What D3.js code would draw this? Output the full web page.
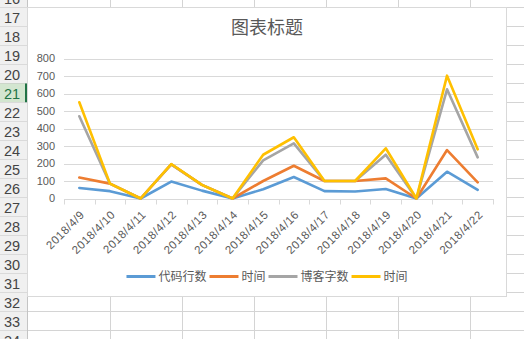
<!DOCTYPE html>
<html><head><meta charset="utf-8">
<script src="https://cdn.jsdelivr.net/npm/d3@7"></script>
<style>
html,body{margin:0;padding:0;background:#fff;overflow:hidden}
svg{display:block}
</style></head>
<body>
<svg id="c" width="524" height="339"></svg>
<script>
const categories = ["2018/4/9","2018/4/10","2018/4/11","2018/4/12","2018/4/13","2018/4/14","2018/4/15","2018/4/16","2018/4/17","2018/4/18","2018/4/19","2018/4/20","2018/4/21","2018/4/22"];
const codeLines = [60, 42, 0, 97, 45, 0, 53, 123, 42, 40, 54, 0, 153, 49];
const time1     = [120, 85, 0, 195, 78, 0, 100, 187, 100, 100, 115, 0, 277, 92];
const blogWords = [470, 85, 0, 195, 78, 0, 218, 315, 100, 100, 250, 0, 624, 235];
const time2     = [550, 85, 0, 197, 78, 0, 250, 350, 100, 100, 287, 0, 702, 281];
const seriesNames = ["代码行数","时间","博客字数","时间"];
const seriesColors = ["#5b9bd5","#ed7d31","#a5a5a5","#ffc000"];
const yTicks = [0,100,200,300,400,500,600,700,800];
const rowNumbers = [16,17,18,19,20,21,22,23,24,25,26,27,28,29,30,31,32,33,34];
const selectedRow = 21;
const title = "图表标题";

const series = [codeLines, time1, blogWords, time2];
const svg = d3.select("#c");
const W = 524, H = 339;
const cjk = "'Noto Sans CJK SC','Noto Sans',sans-serif";

// ---- spreadsheet background ----
const rowTop0 = 7.5 - 19; // top of row 16
const rowH = 19;
const hdrW = 27;
const colLines = [110, 182, 254, 326, 398, 470];
const g0 = svg.append("g");
rowNumbers.forEach((r, i) => {
  const y = rowTop0 + i * rowH;
  g0.append("line").attr("x1", hdrW).attr("x2", W).attr("y1", y + rowH).attr("y2", y + rowH)
    .attr("stroke", "#d4d4d4").attr("stroke-width", 1).attr("shape-rendering","crispEdges");
});
colLines.forEach(x => {
  g0.append("line").attr("x1", x + .5).attr("x2", x + .5).attr("y1", 0).attr("y2", H)
    .attr("stroke", "#d4d4d4").attr("shape-rendering","crispEdges");
});
rowNumbers.forEach((r, i) => {
  const y = rowTop0 + i * rowH;
  const sel = r === selectedRow;
  g0.append("rect").attr("x", 0).attr("y", y).attr("width", hdrW).attr("height", rowH)
    .attr("fill", sel ? "#d3e6d0" : "#f0f0f0");
  g0.append("line").attr("x1", 0).attr("x2", hdrW).attr("y1", y + rowH).attr("y2", y + rowH)
    .attr("stroke", "#c4c4c4").attr("shape-rendering","crispEdges");
  g0.append("text").attr("x", 12).attr("y", y + rowH / 2 + 5.5)
    .attr("text-anchor", "middle").attr("font-family", "'Liberation Sans',Arial,sans-serif")
    .attr("font-size", 14.5).attr("fill", sel ? "#217346" : "#444").text(r);
  if (sel) {
    g0.append("rect").attr("x", hdrW - 2).attr("y", y).attr("width", 2).attr("height", rowH).attr("fill", "#217346");
  }
});
g0.append("line").attr("x1", hdrW + .5).attr("x2", hdrW + .5).attr("y1", 0).attr("y2", H)
  .attr("stroke", "#c4c4c4");

// ---- chart area ----
const chart = {x0: 28, y0: 8, x1: 506, y1: 296};
svg.append("rect").attr("x", chart.x0 - .5).attr("y", chart.y0 - .5)
  .attr("width", chart.x1 - chart.x0 + 1).attr("height", chart.y1 - chart.y0 + 1)
  .attr("fill", "#fff").attr("stroke", "#d9d9d9");

svg.append("text").attr("x", (chart.x0 + chart.x1) / 2).attr("y", 34)
  .attr("text-anchor", "middle").attr("font-family", cjk).attr("font-size", 18)
  .attr("fill", "#595959").text(title);

const x = d3.scaleBand().domain(categories).range([64, 493]).padding(0);
const y = d3.scaleLinear().domain([0, 800]).range([198.5, 58.5]);

svg.append("g").selectAll("line").data(yTicks).join("line")
  .attr("x1", 64).attr("x2", 493)
  .attr("y1", d => Math.round(y(d)) + .5).attr("y2", d => Math.round(y(d)) + .5)
  .attr("stroke", "#d9d9d9");

svg.append("g").selectAll("text").data(yTicks).join("text")
  .attr("x", 55).attr("y", d => y(d)).attr("dy", "0.36em")
  .attr("text-anchor", "end").attr("font-family", "'Liberation Sans',Arial,sans-serif")
  .attr("font-size", 11).attr("fill", "#595959").text(d => d);

const tickXs = categories.map(c => x(c)).concat([x.range()[1]]);
svg.append("g").selectAll("line").data(tickXs).join("line")
  .attr("x1", d => Math.round(d) + .5).attr("x2", d => Math.round(d) + .5)
  .attr("y1", Math.round(y(0))).attr("y2", Math.round(y(0)) + 5.5)
  .attr("stroke", "#d9d9d9");

svg.append("g").selectAll("text").data(categories).join("text")
  .attr("transform", d => `translate(${x(d) + x.bandwidth() / 2 + 3},${212.5}) rotate(-45)`)
  .attr("dy", "0.36em")
  .attr("text-anchor", "end").attr("font-family", "'Liberation Sans',Arial,sans-serif")
  .attr("font-size", 11.5).attr("letter-spacing", "0.5px").attr("fill", "#595959").text(d => d);

const line = d3.line().x((d, i) => x(categories[i]) + x.bandwidth() / 2).y(d => y(d));
series.forEach((s, k) => {
  svg.append("path").datum(s).attr("d", line).attr("fill", "none")
    .attr("stroke", seriesColors[k]).attr("stroke-width", 2.6)
    .attr("stroke-linejoin", "round").attr("stroke-linecap", "round");
});

const lg = svg.append("g");
let cx = 0;
seriesNames.forEach((n, k) => {
  lg.append("line").attr("x1", cx).attr("x2", cx + 29).attr("y1", 276.5).attr("y2", 276.5)
    .attr("stroke", seriesColors[k]).attr("stroke-width", 3);
  cx += 32;
  const t = lg.append("text").attr("x", cx).attr("y", 276.5).attr("dy", "0.36em")
    .attr("font-family", cjk).attr("font-size", 12).attr("fill", "#595959").text(n);
  cx += t.node().getComputedTextLength() + 3;
});
const total = cx - 3;
lg.attr("transform", `translate(${(chart.x0 + chart.x1) / 2 - total / 2},0)`);
</script>
</body></html>
